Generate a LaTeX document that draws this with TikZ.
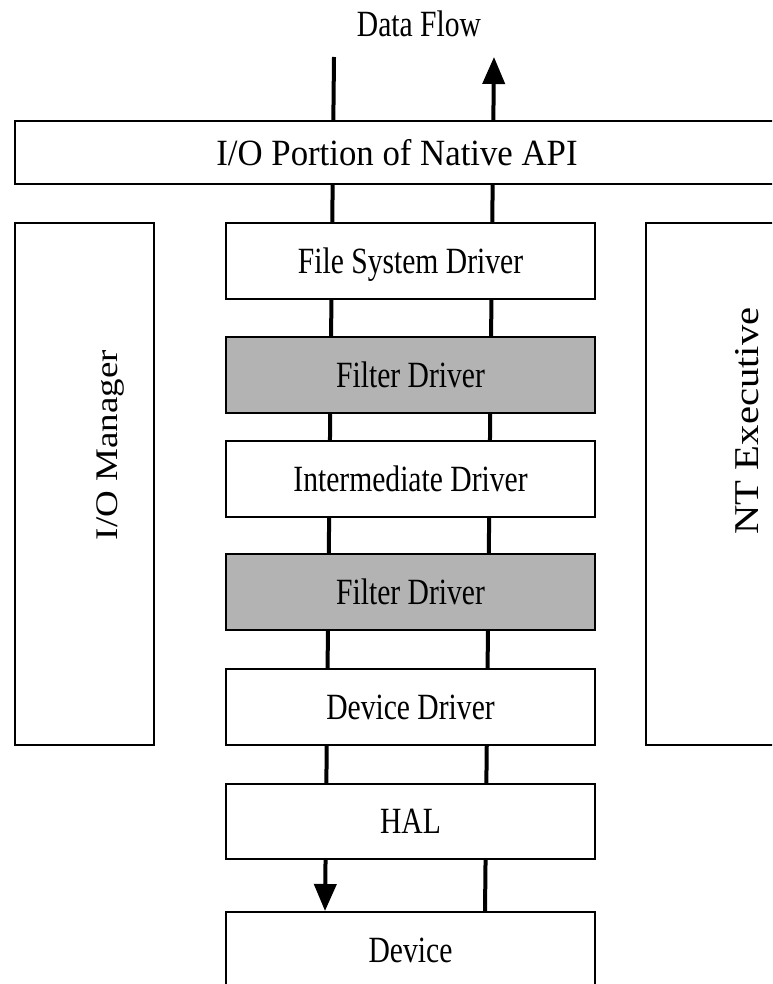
\documentclass[tikz,border=0pt]{standalone}
\usepackage{fontspec}
\setmainfont{Liberation Serif}
\usetikzlibrary{arrows.meta}
\definecolor{filtergray}{RGB}{179,179,179}
\begin{document}
\begin{tikzpicture}[x=1pt,y=-1pt,
  box/.style={draw=black, line width=1.1pt, fill=white, anchor=north west,
    inner sep=0pt, outer sep=0pt, text height=24.5pt, text depth=0pt,
    font=\fontsize{37}{40}\selectfont},
  layer/.style={box, minimum width=369pt, minimum height=76pt},
  filterlayer/.style={layer, fill=filtergray},
  lbl/.style={anchor=base, inner sep=0pt, outer sep=0pt, font=\fontsize{37}{40}\selectfont},
  flow/.style={line width=4pt, -{Triangle[width=22pt,length=27pt]}}]

\useasboundingbox (0,0) rectangle (772,984);
\clip (0,0) rectangle (772,984);
\fill[white] (0,0) rectangle (772,984);

% ends of the two data paths
\coordinate (reqTop) at (334,57);
\coordinate (reqBot) at (325,911);
\coordinate (retBot) at (485,912);
\coordinate (retTop) at (494,57);

% data paths run behind the layer boxes
\draw[flow] (reqTop) -- (reqBot);
\draw[flow] (retBot) -- (retTop);

\node[lbl] (flowTitle) at (419,37) {\scalebox{0.8}[1]{Data Flow}};

% native API strip
\node[box, minimum width=800pt, minimum height=63pt] (api) at (15,121) {};
\node[lbl] (apiText) at (397,165.5) {\scalebox{0.94}[1]{I/O Portion of Native API}};

% side blocks
\node[box, minimum width=139pt, minimum height=522pt] (iomgr) at (15,223) {};
\node[lbl, rotate=90] (iomgrText) at (117,445) {\scalebox{1.0}[0.85]{I/O Manager}};
\node[box, minimum width=200pt, minimum height=522pt] (ntexec) at (646,223) {};
\node[lbl, rotate=90] (ntexecText) at (758,421) {\scalebox{1.1}[0.94]{NT Executive}};

% driver stack
\node[layer] (fsd) at (226,223) {\scalebox{0.8}[1]{File System Driver}};
\node[filterlayer] (filterA) at (226,337) {\scalebox{0.8}[1]{Filter Driver}};
\node[layer] (inter) at (226,441) {\scalebox{0.8}[1]{Intermediate Driver}};
\node[filterlayer] (filterB) at (226,554) {\scalebox{0.8}[1]{Filter Driver}};
\node[layer] (devdrv) at (226,669) {\scalebox{0.8}[1]{Device Driver}};
\node[layer, minimum height=75pt] (hal) at (226,784) {\scalebox{0.8}[1]{HAL}};
\node[layer, minimum height=76pt] (device) at (226,912) {\scalebox{0.8}[1]{Device}};
\end{tikzpicture}
\end{document}
